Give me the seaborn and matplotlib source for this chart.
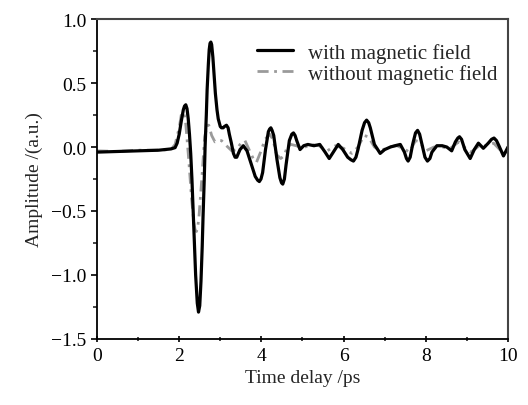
import numpy as np
import pandas as pd
import matplotlib
matplotlib.use("Agg")
import matplotlib.pyplot as plt
import seaborn as sns

# --- data ---
t_with = [0.0, 0.5, 1.0, 1.5, 1.8, 1.90, 1.95, 2.00, 2.05, 2.10, 2.13, 2.16, 2.19, 2.22, 2.25,
          2.28, 2.31, 2.34, 2.37, 2.40, 2.44, 2.47, 2.50, 2.53, 2.56, 2.58, 2.61, 2.63, 2.66,
          2.68, 2.71, 2.73, 2.75, 2.77, 2.79, 2.82, 2.85, 2.88, 2.92, 2.95, 3.00, 3.03, 3.07,
          3.10, 3.15, 3.19, 3.22, 3.27, 3.32, 3.36, 3.40, 3.44, 3.48, 3.56, 3.65, 3.75, 3.85,
          3.91, 3.95, 3.99, 4.03, 4.10, 4.17, 4.20, 4.23, 4.26, 4.30, 4.38, 4.45, 4.49, 4.52,
          4.56, 4.60, 4.68, 4.74, 4.78, 4.82, 4.86, 4.94, 5.03, 5.13, 5.28, 5.42, 5.55, 5.65,
          5.75, 5.87, 5.98, 6.10, 6.18, 6.24, 6.30, 6.35, 6.45, 6.51, 6.56, 6.61, 6.65, 6.75,
          6.89, 7.00, 7.14, 7.25, 7.38, 7.48, 7.53, 7.57, 7.62, 7.68, 7.75, 7.80, 7.85, 7.90,
          7.98, 8.04, 8.10, 8.15, 8.27, 8.40, 8.51, 8.63, 8.72, 8.78, 8.82, 8.87, 8.95, 9.08,
          9.18, 9.28, 9.40, 9.52, 9.60, 9.66, 9.72, 9.78, 9.89, 10.0]
a_with = [-0.04, -0.035, -0.03, -0.025, -0.015, -0.005, 0.03, 0.10, 0.20, 0.29, 0.32, 0.33,
          0.30, 0.22, 0.10, -0.05, -0.25, -0.50, -0.76, -1.00, -1.22, -1.29, -1.24, -1.05,
          -0.78, -0.55, -0.25, 0.00, 0.25, 0.45, 0.65, 0.76, 0.81, 0.82, 0.80, 0.70, 0.56,
          0.42, 0.29, 0.22, 0.16, 0.15, 0.15, 0.16, 0.17, 0.15, 0.10, 0.03, -0.05, -0.08,
          -0.08, -0.05, -0.02, 0.01, -0.03, -0.13, -0.23, -0.26, -0.27, -0.25, -0.20, -0.02,
          0.12, 0.14, 0.15, 0.13, 0.09, -0.10, -0.24, -0.28, -0.29, -0.25, -0.14, 0.05, 0.10,
          0.11, 0.09, 0.05, -0.02, 0.01, 0.02, 0.01, 0.02, -0.04, -0.09, -0.04, 0.02, -0.02,
          -0.08, -0.10, -0.11, -0.08, -0.02, 0.13, 0.19, 0.21, 0.19, 0.15, 0.02, -0.05, -0.02,
          0.00, 0.01, 0.02, -0.04, -0.09, -0.11, -0.08, 0.02, 0.11, 0.13, 0.10, 0.03, -0.08,
          -0.11, -0.09, -0.04, 0.01, 0.01, 0.00, -0.03, 0.04, 0.07, 0.08, 0.06, -0.02, -0.09,
          -0.02, 0.03, -0.01, 0.03, 0.06, 0.07, 0.05, 0.01, -0.07, 0.00]

t_without = [0.0, 0.5, 1.0, 1.5, 1.8, 1.9, 2.0, 2.05, 2.08, 2.10, 2.13, 2.16, 2.22, 2.26,
             2.30, 2.36, 2.39, 2.42, 2.45, 2.48, 2.55, 2.62, 2.68, 2.72, 2.79, 2.87, 2.95,
             3.03, 3.15, 3.28, 3.40, 3.50, 3.60, 3.70, 3.80, 3.88, 3.98, 4.09, 4.20, 4.28,
             4.37, 4.47, 4.55, 4.63, 4.72, 4.85, 5.0, 5.2, 5.4, 5.6, 5.8, 6.0, 6.2, 6.35,
             6.50, 6.60, 6.75, 6.9, 7.1, 7.3, 7.5, 7.6, 7.75, 7.85, 8.0, 8.2, 8.4, 8.6, 8.8,
             9.0, 9.1, 9.3, 9.5, 9.65, 9.8, 9.9, 10.0]
a_without = [-0.03, -0.035, -0.025, -0.025, -0.02, 0.02, 0.15, 0.25, 0.27, 0.27, 0.24, 0.18,
             -0.05, -0.22, -0.40, -0.60, -0.65, -0.66, -0.63, -0.55, -0.25, 0.08, 0.17, 0.17,
             0.09, 0.04, 0.05, 0.05, 0.01, -0.03, -0.02, 0.03, 0.05, -0.02, -0.09, -0.12,
             -0.04, 0.06, 0.10, 0.06, -0.06, -0.09, -0.07, 0.00, 0.02, 0.01, -0.01, 0.02,
             0.01, -0.03, 0.01, -0.01, -0.05, 0.00, 0.09, 0.08, 0.00, -0.03, 0.00, 0.01,
             -0.02, -0.04, 0.05, 0.04, -0.03, 0.00, 0.00, -0.01, 0.04, -0.02, -0.04, 0.01,
             0.01, 0.03, -0.02, -0.05, -0.03]

labels = ["with magnetic field", "without magnetic field"]
x_ticks = [0, 2, 4, 6, 8, 10]
y_ticks = [-1.5, -1.0, -0.5, 0.0, 0.5, 1.0]

df = pd.concat([
    pd.DataFrame({"t": t_with, "a": a_with, "series": labels[0]}),
    pd.DataFrame({"t": t_without, "a": a_without, "series": labels[1]}),
], ignore_index=True)

sns.set_style("ticks")
plt.rcParams["font.family"] = ["Liberation Serif", "DejaVu Serif"]

fig = plt.figure(figsize=(5.28, 4.06), dpi=100)
ax = fig.add_axes([0.1837, 0.1626, 0.7784, 0.7881])

sns.lineplot(data=df[df.series == labels[1]], x="t", y="a", ax=ax, color="#9a9a9a",
             linewidth=2.0, linestyle=(0, (4, 2, 1, 2)), label=labels[1],
             estimator=None, sort=False)
sns.lineplot(data=df[df.series == labels[0]], x="t", y="a", ax=ax, color="black",
             linewidth=2.3, label=labels[0], estimator=None, sort=False)

ax.set_xlim(0, 10)
ax.set_ylim(-1.5, 1.0)
ax.set_xticks(x_ticks)
ax.set_xticklabels([str(v) for v in x_ticks])
ax.set_yticks(y_ticks)
ax.set_yticklabels([f"{v:.1f}".replace("-", "\u2212") for v in y_ticks])
ax.set_xticks(np.arange(1, 10, 2), minor=True)
ax.set_yticks(np.arange(-1.25, 1.0, 0.5), minor=True)
ax.tick_params(axis="both", which="major", labelsize=14, length=4, width=1.2,
               color="black", labelcolor="black")
ax.tick_params(axis="x", which="both", direction="inout")
ax.tick_params(axis="y", which="both", direction="out")
ax.tick_params(axis="both", which="minor", length=3, width=1.2)

ax.set_xlabel("Time delay /ps", fontsize=14, labelpad=4)
ax.set_ylabel("Amplitude /(a.u.)", fontsize=14, labelpad=6)

for s in ["left", "bottom"]:
    ax.spines[s].set_color("black")
    ax.spines[s].set_linewidth(1.3)
for s in ["top", "right"]:
    ax.spines[s].set_visible(True)
    ax.spines[s].set_color("#444444")
    ax.spines[s].set_linewidth(1.5)

handles, labs = ax.get_legend_handles_labels()
order = [labs.index(labels[0]), labs.index(labels[1])]
ax.legend([handles[i] for i in order], [labs[i] for i in order], loc="upper right",
          frameon=False, fontsize=15, handlelength=1.75, handletextpad=0.7,
          labelspacing=0.05, borderaxespad=0.1, bbox_to_anchor=(1.0, 0.958))

fig.savefig("out.png", dpi=100)
